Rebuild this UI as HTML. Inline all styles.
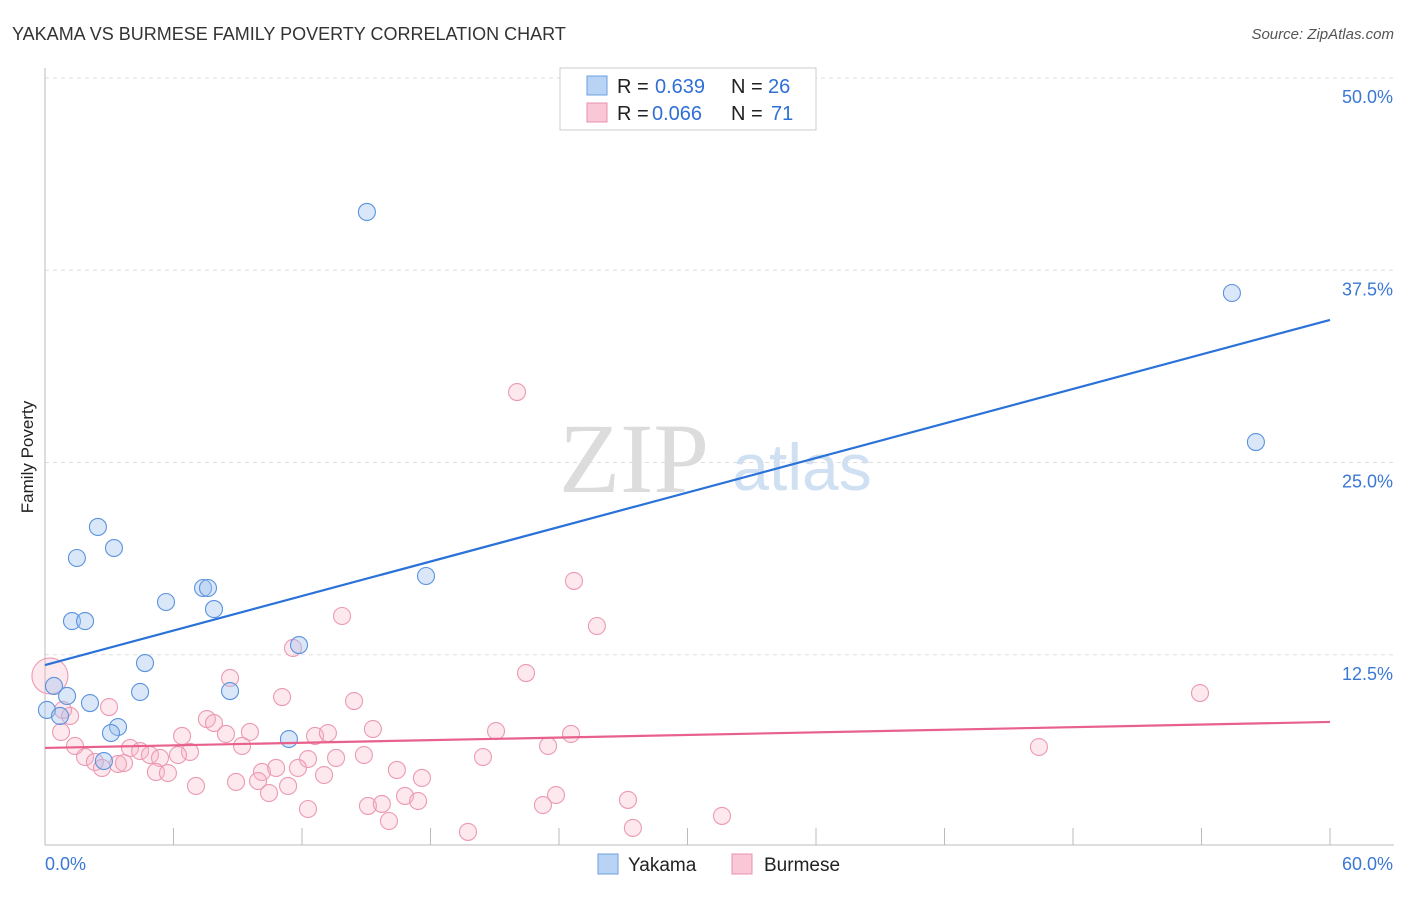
<!DOCTYPE html>
<html><head><meta charset="utf-8"><style>
body{margin:0;background:#fff;font-family:"Liberation Sans",sans-serif}
</style></head><body>
<svg id="chart" width="1406" height="892" xmlns="http://www.w3.org/2000/svg" font-family="Liberation Sans, sans-serif">
<text x="12" y="40" font-size="18" fill="#333">YAKAMA VS BURMESE FAMILY POVERTY CORRELATION CHART</text>
<text x="1394" y="39" font-size="15" fill="#555" text-anchor="end" font-style="italic">Source: ZipAtlas.com</text>
<text x="33" y="457" font-size="17" fill="#222" text-anchor="middle" transform="rotate(-90 33 457)">Family Poverty</text>
<g>
<text x="634" y="492" font-size="100" fill="#dcdcdc" style="font-family:'Liberation Serif',serif" text-anchor="middle">ZIP</text>
<text x="802" y="490" font-size="66" fill="#cfe0f3" text-anchor="middle">atlas</text>
</g>
<g id="grid"></g>
<g id="axes"></g>
<g id="pink"></g>
<g id="blue"></g>
<g id="trends"></g>
<g font-size="20">
<rect x="560" y="68" width="256" height="62" fill="#fff" stroke="#ccc"/>
<rect x="587" y="76" width="20" height="19" fill="#b9d3f5" stroke="#6a9fe0"/>
<text x="617" y="93" fill="#222">R =</text><text x="655" y="93" fill="#2f6fd6">0.639</text>
<text x="731" y="93" fill="#222">N =</text><text x="768" y="93" fill="#2f6fd6">26</text>
<rect x="587" y="103" width="20" height="19" fill="#f9c7d6" stroke="#e890aa"/>
<text x="617" y="120" fill="#222">R =</text><text x="652" y="120" fill="#2f6fd6">0.066</text>
<text x="731" y="120" fill="#222">N =</text><text x="771" y="120" fill="#2f6fd6">71</text>
</g>
<g>
<rect x="598" y="854" width="20" height="20" fill="#b9d3f5" stroke="#6a9fe0"/>
<text x="628" y="871" font-size="19" fill="#222">Yakama</text>
<rect x="732" y="854" width="20" height="20" fill="#f9c7d6" stroke="#e890aa"/>
<text x="764" y="871" font-size="19" fill="#222">Burmese</text>
</g>
</svg>
<script>
const yTicks=[12.5,25,37.5,50];
const yTickLabels=["12.5%","25.0%","37.5%","50.0%"];
const xTickCount=10;
const xLabels=["0.0%","60.0%"];
const blueX=[15.03,55.42,56.54,2.47,3.22,1.49,17.79,7.38,7.61,5.65,7.89,1.26,1.87,11.86,4.67,0.42,1.03,4.44,8.64,2.10,0.09,0.70,3.41,3.08,11.39,2.75];
const blueY=[41.29,36.02,26.33,20.81,19.44,18.79,17.62,16.84,16.84,15.93,15.47,14.69,14.69,13.13,11.96,10.47,9.82,10.08,10.14,9.36,8.91,8.52,7.80,7.41,7.02,5.59];
const pinkX=[22.04,24.70,25.77,13.87,11.58,22.46,8.64,53.93,11.07,14.43,2.99,1.17,7.56,7.89,9.57,8.45,15.31,12.61,13.21,21.06,24.56,6.40,0.75,1.40,3.97,4.44,4.90,5.37,1.87,2.33,3.41,3.69,2.66,6.77,6.21,9.20,23.49,46.41,20.45,14.89,12.28,13.59,5.18,5.74,10.13,10.79,11.81,13.03,16.43,17.60,7.05,8.92,9.95,11.35,10.46,16.81,17.42,23.86,27.22,15.08,15.73,23.25,12.28,16.06,19.75,27.45,31.61,0.84,0.23];
const pinkY=[29.58,17.30,14.37,15.02,12.94,11.31,10.99,10.01,9.75,9.49,9.10,8.52,8.32,8.06,7.48,7.35,7.67,7.22,7.41,7.54,7.35,7.22,7.48,6.57,6.44,6.24,5.98,5.79,5.85,5.53,5.40,5.46,5.14,6.18,5.98,6.57,6.57,6.50,5.85,5.98,5.72,5.79,4.88,4.81,4.88,5.14,5.14,4.68,5.01,4.49,3.97,4.23,4.29,3.97,3.51,3.32,2.99,3.38,3.06,2.67,2.80,2.73,2.47,1.69,0.98,1.24,2.02,8.91,11.12];
const blueTrend=[11.83,34.27];
const pinkTrend=[6.44,8.13];
const NS="http://www.w3.org/2000/svg";
const X=v=>45+v/60*1285, Y=v=>847-v/50*769;
function mk(p,t,a){const e=document.createElementNS(NS,t);for(const k in a)e.setAttribute(k,a[k]);p.appendChild(e);return e;}
const grid=document.getElementById('grid'),axes=document.getElementById('axes');
yTicks.forEach((t,i)=>{
 const l=mk(grid,'line',{x1:45,x2:1394,y1:Y(t),y2:Y(t),stroke:'#ddd','stroke-dasharray':'4,4'});
 
 
 const tx=mk(axes,'text',{x:1393,y:Y(t)+25,'font-size':18,fill:'#3a78d4','text-anchor':'end'});
 tx.textContent=yTickLabels[i];
 
 
});
mk(axes,'line',{x1:45,x2:45,y1:68,y2:845,stroke:'#bbb'});
mk(axes,'line',{x1:45,x2:1394,y1:845,y2:845,stroke:'#bbb'});
for(let k=1;k<=xTickCount;k++){const x=X(k*6);const t=mk(axes,'line',{x1:x,x2:x,y1:828,y2:845,stroke:'#bbb'});
 
 }
const l0=mk(axes,'text',{x:45,y:870,'font-size':18,fill:'#3a78d4'});l0.textContent=xLabels[0];


const l1=mk(axes,'text',{x:1393,y:870,'font-size':18,fill:'#3a78d4','text-anchor':'end'});l1.textContent=xLabels[1];


const pg=document.getElementById('pink');
pinkX.forEach((v,i)=>{const c=mk(pg,'circle',{cx:X(v),cy:Y(pinkY[i]),r:i==pinkX.length-1?18:8.5,fill:'rgba(248,180,200,0.3)',stroke:'#eb9ab3','stroke-width':1.1});
 
 });
const bg=document.getElementById('blue');
blueX.forEach((v,i)=>{const c=mk(bg,'circle',{cx:X(v),cy:Y(blueY[i]),r:8.5,fill:'rgba(160,196,240,0.4)',stroke:'#5b93dc','stroke-width':1.1});
 
 });
const tg=document.getElementById('trends');
const bt=mk(tg,'line',{x1:X(0),y1:Y(blueTrend[0]),x2:X(60),y2:Y(blueTrend[1]),stroke:'#2a72d8','stroke-width':2.2});


const pt=mk(tg,'line',{x1:X(0),y1:Y(pinkTrend[0]),x2:X(60),y2:Y(pinkTrend[1]),stroke:'#e8608c','stroke-width':2.2});


</script>
</body></html>
